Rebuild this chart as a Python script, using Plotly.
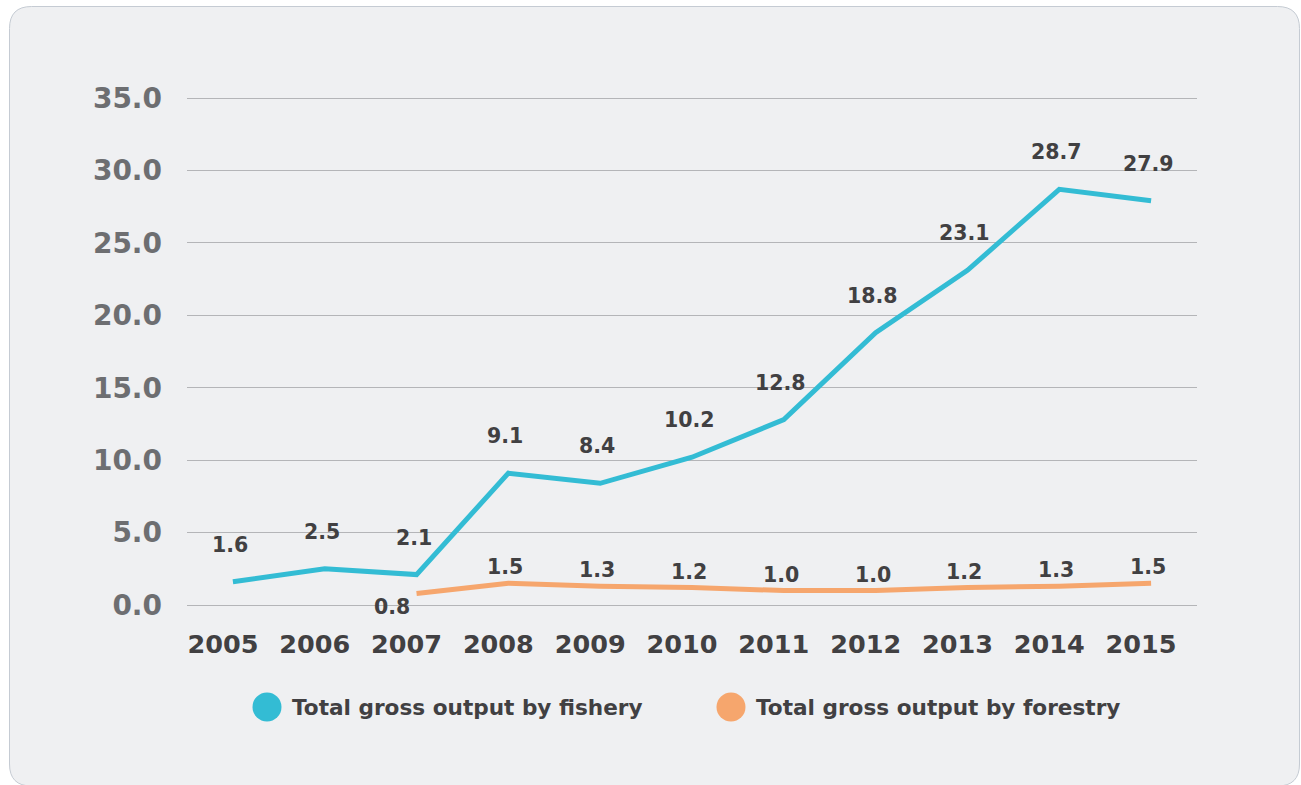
import plotly.graph_objects as go

# Series data
years = ["2005", "2006", "2007", "2008", "2009", "2010", "2011", "2012", "2013", "2014", "2015"]
fishery = [1.6, 2.5, 2.1, 9.1, 8.4, 10.2, 12.8, 18.8, 23.1, 28.7, 27.9]
forestry = [None, None, 0.8, 1.5, 1.3, 1.2, 1.0, 1.0, 1.2, 1.3, 1.5]
series_names = ["Total gross output by fishery", "Total gross output by forestry"]
y_ticks = [0, 5, 10, 15, 20, 25, 30, 35]
y_tick_text = ["0.0", "5.0", "10.0", "15.0", "20.0", "25.0", "30.0", "35.0"]

FISH = "#33bcd4"
FOREST = "#f6a66d"
DARK = "#414042"
GREY = "#6d6e71"
FONT = "DejaVu Sans"

W, H = 1301, 785
L, R, T, B = 187, 104, 96, 178
PW, PH = W - L - R, H - T - B
PAD = 0.138  # small padding so the 0 and 35 gridlines are drawn


def px(x):
    return (x - L) / PW


def py(y):
    return (H - B - y) / PH


fig = go.Figure()
fig.add_trace(go.Scatter(x=years, y=fishery, mode="lines", name=series_names[0],
                         line=dict(color=FISH, width=5), showlegend=False))
fig.add_trace(go.Scatter(x=years, y=forestry, mode="lines", name=series_names[1],
                         line=dict(color=FOREST, width=5), showlegend=False))

label_font = dict(family=FONT, size=20.5, color=DARK, weight="bold")
annotations = []
for i, v in enumerate(fishery):
    annotations.append(dict(x=i, y=v, xref="x", yref="y", text=f"{v:.1f}", showarrow=False,
                            xshift=-3, yshift=37, font=label_font))
for i, v in enumerate(forestry):
    if v is None:
        continue
    first = forestry[i - 1] is None
    annotations.append(dict(x=i, y=v, xref="x", yref="y", text=f"{v:.1f}", showarrow=False,
                            xshift=-25 if first else -3, yshift=-14 if first else 16,
                            font=label_font))

# Legend drawn manually: large circles followed by labels
legend_items = [(267, series_names[0], FISH), (731, series_names[1], FOREST)]
shapes = []
r = 14.5
cy = 707
for cx, name, col in legend_items:
    shapes.append(dict(type="circle", xref="paper", yref="paper",
                       x0=px(cx - r), x1=px(cx + r), y0=py(cy + r), y1=py(cy - r),
                       fillcolor=col, line=dict(width=0), layer="above"))
    annotations.append(dict(xref="paper", yref="paper", x=px(cx + 23), y=py(cy),
                            xanchor="left", yanchor="middle", showarrow=False, text=name,
                            font=dict(family=FONT, size=21.6, color=DARK, weight="bold")))

# Rounded background panel
x0, x1, y0, y1, rad = 9.5, 1299.5, 6.5, 786, 22
path = (f"M {px(x0 + rad)},{py(y0)} L {px(x1 - rad)},{py(y0)} "
        f"Q {px(x1)},{py(y0)} {px(x1)},{py(y0 + rad)} "
        f"L {px(x1)},{py(y1 - rad)} Q {px(x1)},{py(y1)} {px(x1 - rad)},{py(y1)} "
        f"L {px(x0 + rad)},{py(y1)} Q {px(x0)},{py(y1)} {px(x0)},{py(y1 - rad)} "
        f"L {px(x0)},{py(y0 + rad)} Q {px(x0)},{py(y0)} {px(x0 + rad)},{py(y0)} Z")
shapes.insert(0, dict(type="path", xref="paper", yref="paper", path=path,
                      fillcolor="#eff0f2", line=dict(color="#c5cbd3", width=1), layer="below"))

fig.update_layout(
    width=W, height=H,
    margin=dict(l=L, r=R, t=T, b=B),
    paper_bgcolor="white", plot_bgcolor="rgba(0,0,0,0)",
    shapes=shapes, annotations=annotations,
    xaxis=dict(type="category", range=[-0.5, 10.5], showgrid=False, zeroline=False,
               showline=False, ticks="", ticklabelshift=-10, ticklabelstandoff=19,
               tickfont=dict(family=FONT, size=25.5, color=DARK, weight="bold")),
    yaxis=dict(range=[-PAD, 35 + PAD], tickvals=y_ticks, ticktext=y_tick_text, showgrid=True,
               gridcolor="#b4b5b8", gridwidth=1, zeroline=False, showline=False,
               ticks="", ticklabelstandoff=24,
               tickfont=dict(family=FONT, size=28, color=GREY, weight="bold")),
)

fig.write_html("out.html")
